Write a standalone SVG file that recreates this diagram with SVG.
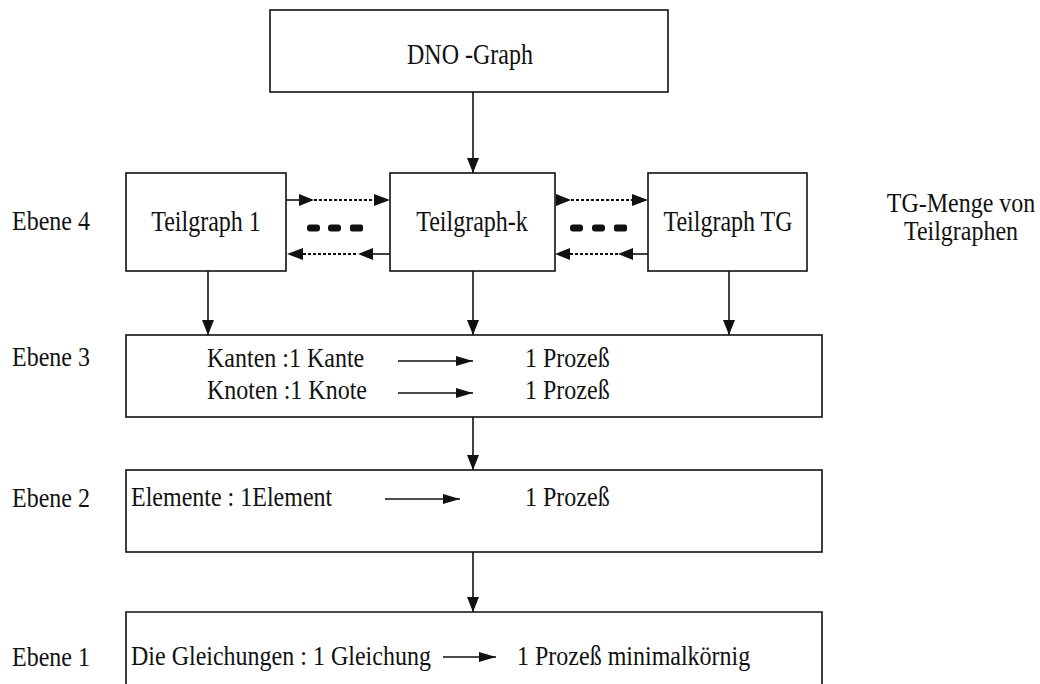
<svg xmlns="http://www.w3.org/2000/svg" width="1040" height="684" viewBox="0 0 1040 684">
<style>
.box{fill:#fff;stroke:#111;stroke-width:1.6}
text{font-family:'Liberation Serif',serif;font-size:24px;fill:#111}
.c{text-anchor:middle}
.ln{stroke:#111;stroke-width:1.6;fill:none}
.dot{stroke:#111;stroke-width:2;stroke-dasharray:3 2;fill:none}
.hd{fill:#111}
</style>
<defs>
<marker id="ah" viewBox="0 0 15 12" refX="15" refY="6" markerWidth="15" markerHeight="12" markerUnits="userSpaceOnUse" orient="auto">
<path d="M0,0 L15,6 L0,12 z" fill="#111"/>
</marker>
<marker id="as" viewBox="0 0 17 10" refX="17" refY="5" markerWidth="17" markerHeight="10" markerUnits="userSpaceOnUse" orient="auto">
<path d="M0,0 L17,5 L0,10 z" fill="#111"/>
</marker>
</defs>

<g id="labels" font-family="Liberation Serif, serif">
<text transform="translate(12,230) scale(1,1.12)">Ebene 4</text>
<text transform="translate(12,366) scale(1,1.12)">Ebene 3</text>
<text transform="translate(12,507) scale(1,1.12)">Ebene 2</text>
<text transform="translate(12,666) scale(1,1.12)">Ebene 1</text>
<text class="c" transform="translate(961,212) scale(1,1.12)">TG-Menge von</text>
<text class="c" transform="translate(961,240) scale(1,1.12)">Teilgraphen</text>
</g>

<g id="dno" font-family="Liberation Serif, serif">
<rect class="box" x="270" y="10" width="398" height="82"/>
<text class="c" transform="translate(470,64) scale(1,1.2)">DNO -Graph</text>
</g>

<g id="tg1" font-family="Liberation Serif, serif">
<rect class="box" x="126" y="173" width="160" height="98"/>
<text class="c" transform="translate(206,231) scale(1,1.2)">Teilgraph 1</text>
</g>

<g id="tgk" font-family="Liberation Serif, serif">
<rect class="box" x="390" y="173" width="165" height="98"/>
<text class="c" transform="translate(472,231) scale(1,1.2)">Teilgraph-k</text>
</g>

<g id="tgTG" font-family="Liberation Serif, serif">
<rect class="box" x="648" y="173" width="159" height="98"/>
<text class="c" transform="translate(728,231) scale(1,1.2)">Teilgraph TG</text>
</g>

<g id="ebene3" font-family="Liberation Serif, serif">
<rect class="box" x="126" y="335" width="696" height="82"/>
<text transform="translate(207,367) scale(1,1.15)">Kanten :1 Kante</text>
<text transform="translate(207,399) scale(1,1.15)">Knoten :1 Knote</text>
<text transform="translate(525,367) scale(1,1.15)">1 Prozeß</text>
<text transform="translate(525,399) scale(1,1.15)">1 Prozeß</text>
</g>

<g id="ebene2" font-family="Liberation Serif, serif">
<rect class="box" x="126" y="470" width="696" height="82"/>
<text transform="translate(131,506) scale(1,1.15)">Elemente : 1Element</text>
<text transform="translate(525,506) scale(1,1.15)">1 Prozeß</text>
</g>

<g id="ebene1" font-family="Liberation Serif, serif">
<path class="box" d="M126,690 L126,612 L822,612 L822,690"/>
<text transform="translate(131,665) scale(1,1.15)">Die Gleichungen : 1 Gleichung</text>
<text transform="translate(517,665) scale(1,1.15)">1 Prozeß minimalkörnig</text>
</g>

<g id="connectors">
<line class="ln" x1="473" y1="92" x2="473" y2="173" marker-end="url(#ah)"/>
<line class="ln" x1="208" y1="271" x2="208" y2="335" marker-end="url(#ah)"/>
<line class="ln" x1="473" y1="271" x2="473" y2="335" marker-end="url(#ah)"/>
<line class="ln" x1="729" y1="271" x2="729" y2="335" marker-end="url(#ah)"/>
<line class="ln" x1="473" y1="417" x2="473" y2="470" marker-end="url(#ah)"/>
<line class="ln" x1="473" y1="552" x2="473" y2="612" marker-end="url(#ah)"/>

<line class="ln" x1="398" y1="361" x2="473" y2="361" marker-end="url(#as)"/>
<line class="ln" x1="398" y1="393" x2="473" y2="393" marker-end="url(#as)"/>
<line class="ln" x1="385" y1="499" x2="460" y2="499" marker-end="url(#as)"/>
<line class="ln" x1="443" y1="657" x2="496" y2="657" marker-end="url(#as)"/>

<line class="ln" x1="286" y1="200" x2="300" y2="200"/>
<polygon class="hd" points="299,194 314,200 299,206"/>
<line class="dot" x1="314" y1="200" x2="374" y2="200"/>
<polygon class="hd" points="374,194 390,200 374,206"/>
<polygon class="hd" points="303,248 287,254 303,260"/>
<line class="dot" x1="303" y1="254" x2="358" y2="254"/>
<polygon class="hd" points="373,248 358,254 373,260"/>
<line class="ln" x1="373" y1="254" x2="390" y2="254"/>
<rect class="hd" x="307" y="224.5" width="13" height="7" rx="3"/>
<rect class="hd" x="328" y="224.5" width="13" height="7" rx="3"/>
<rect class="hd" x="350" y="224.5" width="13" height="7" rx="2"/>

<polygon class="hd" points="556,194 571,200 556,206"/>
<line class="dot" x1="571" y1="200" x2="632" y2="200"/>
<polygon class="hd" points="632,194 648,200 632,206"/>
<polygon class="hd" points="570,248 555,254 570,260"/>
<line class="dot" x1="570" y1="254" x2="618" y2="254"/>
<polygon class="hd" points="633,248 618,254 633,260"/>
<line class="ln" x1="633" y1="254" x2="648" y2="254"/>
<rect class="hd" x="570" y="224.5" width="13" height="7" rx="3"/>
<rect class="hd" x="592" y="224.5" width="13" height="7" rx="3"/>
<rect class="hd" x="614" y="224.5" width="13" height="7" rx="2"/>
</g>
</svg>
